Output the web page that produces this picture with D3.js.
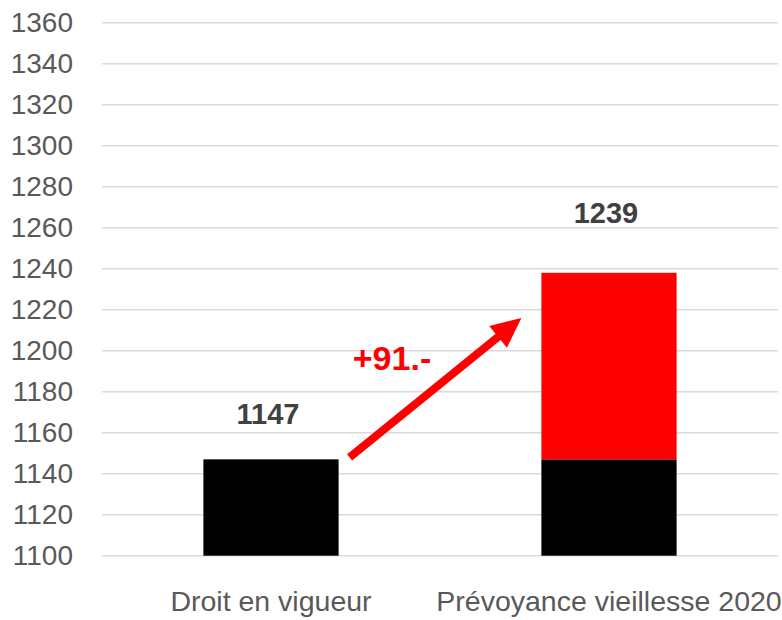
<!DOCTYPE html>
<html>
<head>
<meta charset="utf-8">
<title>Prévoyance vieillesse 2020</title>
<script src="https://d3js.org/d3.v7.min.js"></script>
<style>
  body { margin: 0; background: #fff; }
  text { font-family: "Liberation Sans", Arial, sans-serif; }
</style>
</head>
<body>
<div id="chart"></div>
<script>
// données
const categories = ["Droit en vigueur", "Prévoyance vieillesse 2020"];
const base = [1147, 1147];
const hausse = [0, 91];
const labels = ["1147", "1239"];
const ticks = [1100, 1120, 1140, 1160, 1180, 1200, 1220, 1240, 1260, 1280, 1300, 1320, 1340, 1360];
const deltaLabel = "+91.-";

const W = 782, H = 620;
const svg = d3.select("#chart").append("svg").attr("width", W).attr("height", H);

const x = d3.scaleBand().domain(categories).range([102, 778]).paddingInner(0.6).paddingOuter(0.3);
const y = d3.scaleLinear().domain([1100, 1360]).range([555.7, 22.7]);

// grille
svg.append("g").selectAll("line").data(ticks).enter().append("line")
  .attr("x1", 102).attr("x2", 778)
  .attr("y1", d => y(d)).attr("y2", d => y(d))
  .attr("stroke", "#d9d9d9").attr("stroke-width", 1.5);

// axe y
const yAxis = d3.axisLeft(y).tickValues(ticks).tickFormat(d3.format("d")).tickSize(0).tickPadding(0);
const gy = svg.append("g").attr("transform", "translate(73,0)").call(yAxis);
gy.select(".domain").remove();
gy.selectAll("text").attr("font-size", 28).attr("fill", "#595959")
  .attr("font-family", "Liberation Sans, Arial, sans-serif");

// barres
svg.append("g").selectAll("rect").data(categories).enter().append("rect")
  .attr("x", d => x(d)).attr("width", x.bandwidth())
  .attr("y", (d, i) => y(base[i])).attr("height", (d, i) => y(1100) - y(base[i]))
  .attr("fill", "#000");
svg.append("g").selectAll("rect").data(categories).enter().append("rect")
  .attr("x", d => x(d)).attr("width", x.bandwidth())
  .attr("y", (d, i) => y(base[i] + hausse[i])).attr("height", (d, i) => y(base[i]) - y(base[i] + hausse[i]))
  .attr("fill", "#ff0000");

// étiquettes
const labelDy = [35, 50];
svg.append("g").selectAll("text").data(categories).enter().append("text")
  .attr("x", d => x(d) + x.bandwidth() / 2 - 3)
  .attr("y", (d, i) => y(base[i] + hausse[i]) - labelDy[i])
  .attr("text-anchor", "middle").attr("font-size", 29).attr("font-weight", "bold")
  .attr("fill", "#404040").text((d, i) => labels[i]);

// axe x
const xAxis = d3.axisBottom(x).tickSize(0).tickPadding(0);
const gx = svg.append("g").attr("transform", "translate(0,591)").call(xAxis);
gx.select(".domain").remove();
gx.selectAll("text").attr("font-size", 28.5).attr("fill", "#595959")
  .attr("font-family", "Liberation Sans, Arial, sans-serif");

// flèche
const x0 = x(categories[0]) + x.bandwidth() + 11, y0 = y(1147) - 2;
const x1 = x(categories[1]) - 20, y1 = y(1216);
const ang = Math.atan2(y1 - y0, x1 - x0);
const hl = 30, hw = 14;
const bx = x1 - hl * Math.cos(ang), by = y1 - hl * Math.sin(ang);
svg.append("line").attr("x1", x0).attr("y1", y0).attr("x2", bx + 2 * Math.cos(ang)).attr("y2", by + 2 * Math.sin(ang))
  .attr("stroke", "#ff0000").attr("stroke-width", 8);
svg.append("path")
  .attr("d", `M${x1},${y1}L${bx + hw * Math.sin(ang)},${by - hw * Math.cos(ang)}L${bx - hw * Math.sin(ang)},${by + hw * Math.cos(ang)}Z`)
  .attr("fill", "#ff0000");

svg.append("text").attr("x", 392).attr("y", 370).attr("text-anchor", "middle")
  .attr("font-size", 34).attr("fill", "#ff0000").attr("font-weight", "bold").text(deltaLabel);
</script>
</body>
</html>
